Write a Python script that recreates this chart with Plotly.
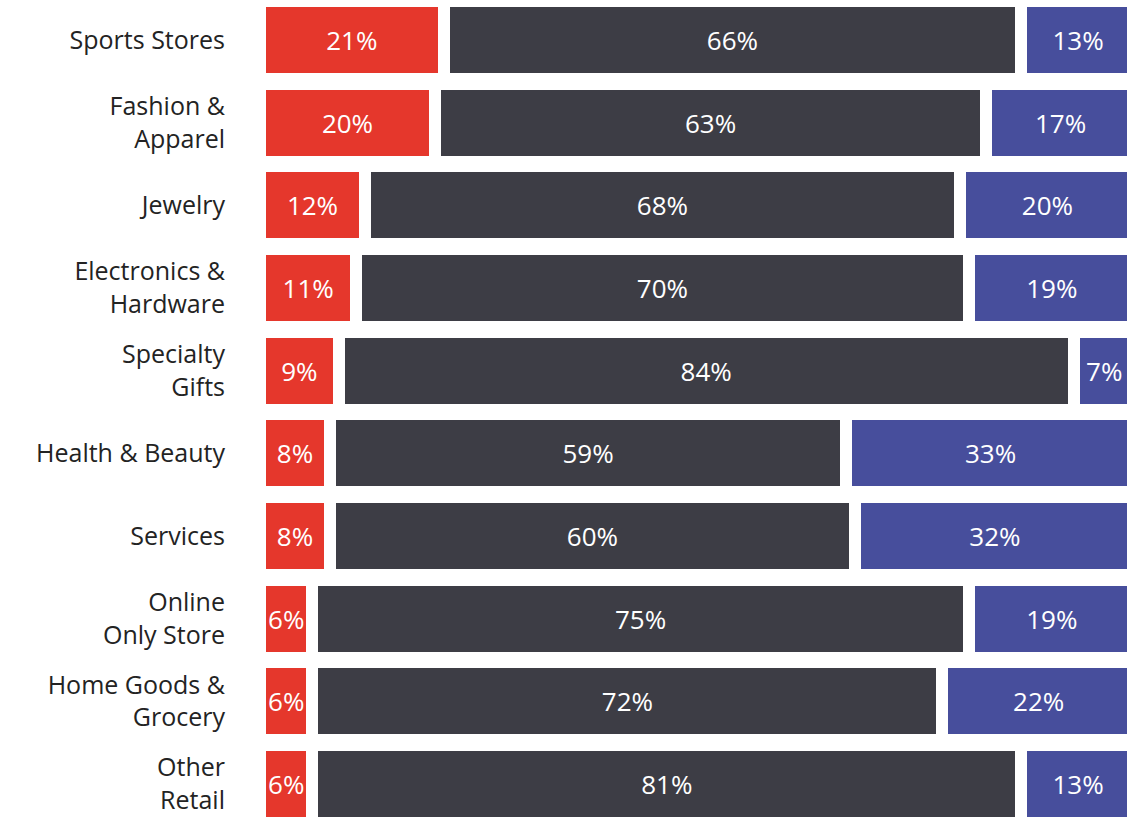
import plotly.graph_objects as go

categories = ["Sports Stores", "Fashion &<br>Apparel", "Jewelry", "Electronics &<br>Hardware",
              "Specialty<br>Gifts", "Health & Beauty", "Services", "Online<br>Only Store",
              "Home Goods &<br>Grocery", "Other<br>Retail"]
red_vals = [21, 20, 12, 11, 9, 8, 8, 6, 6, 6]
dark_vals = [66, 63, 68, 70, 84, 59, 60, 75, 72, 81]
blue_vals = [13, 17, 20, 19, 7, 33, 32, 19, 22, 13]

colors = ["#E5372C", "#3D3D45", "#474E9C"]
ypos = list(range(len(categories)))
FONT = "Open Sans"

fig = go.Figure()
for vals, col in zip([red_vals, dark_vals, blue_vals], colors):
    fig.add_trace(go.Bar(
        y=ypos, x=vals, orientation="h",
        marker=dict(color=col, line=dict(color="white", width=12)),
        text=[f"{v}%" for v in vals],
        textposition="inside", insidetextanchor="middle", textangle=0,
        constraintext="none",
        textfont=dict(family=FONT, size=26, color="white"),
        hoverinfo="skip", showlegend=False,
    ))

fig.update_layout(
    barmode="stack", bargap=0.0565,
    width=1127, height=821,
    margin=dict(l=260, r=0, t=0, b=0),
    paper_bgcolor="white", plot_bgcolor="white",
    font=dict(family=FONT, size=26, color="#232323"),
)
fig.update_xaxes(range=[0, 99.1], visible=False, fixedrange=True)
fig.update_yaxes(range=[9.448, -0.484], tickvals=ypos, ticktext=categories,
                 showgrid=False, zeroline=False, showline=False, ticks="",
                 ticklabelstandoff=34, tickfont=dict(family=FONT, size=25, color="#232323"))

fig.write_html("out.html", config={"displayModeBar": False},
               post_script="document.body.style.margin='0';document.body.style.overflow='hidden';")
